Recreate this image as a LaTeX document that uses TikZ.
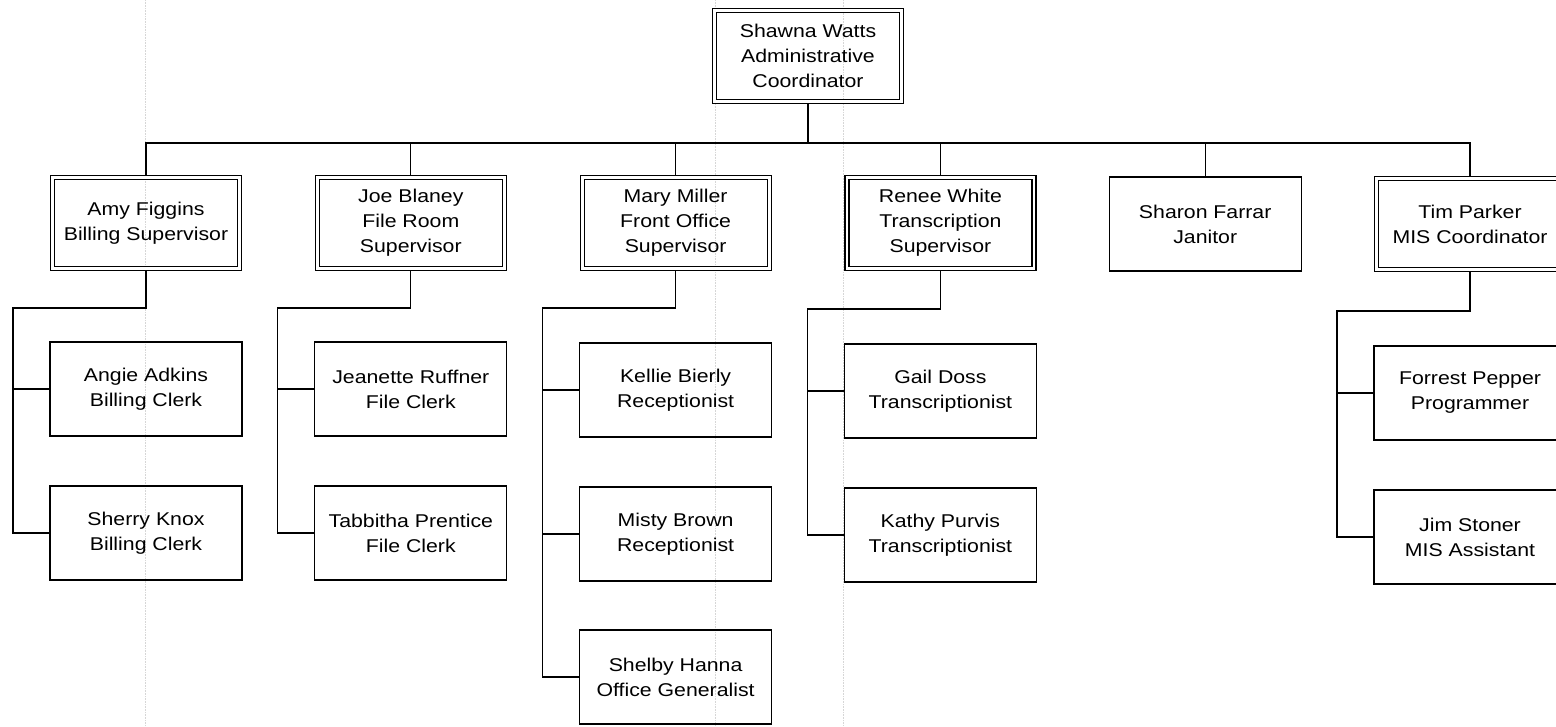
\documentclass[tikz,border=0pt]{standalone}
\usepackage{fontspec}
\setmainfont{Liberation Sans}[FakeStretch=1.15]
\usetikzlibrary{backgrounds}
\usetikzlibrary{calc}

\begin{document}
\begin{tikzpicture}[x=1pt, y=-1pt, font=\fontsize{18.5}{25}\selectfont,
	staff/.style={draw, line width=1.2pt, minimum width=192pt, minimum height=94pt, align=center, inner sep=1pt},
	lead/.style={staff, double, double distance=2.8pt, line width=1.2pt, minimum width=187pt, minimum height=91pt},
	link/.style={line width=1.3pt},
	guide/.style={black!16, densely dotted, line width=0.6pt}]
				\useasboundingbox (0,0) rectangle (1556,726);
				\clip (0,0) rectangle (1556,726);
				\pgfmathsetmacro{\colw}{264.8}
				\pgfmathsetmacro{\busx}{133}
				
				\node[lead] (shawna) at (808,56) {Shawna Watts\\Administrative\\Coordinator};
				
				\node[lead] (amy) at (146,223) {Amy Figgins\\Billing Supervisor};
				\node[lead] (joe) at ({146+\colw},223) {Joe Blaney\\File Room\\Supervisor};
				\node[lead] (mary) at ({146+2*\colw},223) {Mary Miller\\Front Office\\Supervisor};
				\node[lead] (renee) at ({146+3*\colw},223) {Renee White\\Transcription\\Supervisor};
				\node[staff] (sharon) at ({146+4*\colw},224) {Sharon Farrar\\Janitor};
				\node[lead] (tim) at ({146+5*\colw},224) {Tim Parker\\MIS Coordinator};
				
				\node[staff] (angie) at (146,389) {Angie Adkins\\Billing Clerk};
				\node[staff] (sherry) at (146,533) {Sherry Knox\\Billing Clerk};
				
				\node[staff] (jeanette) at ({146+\colw},389) {Jeanette Ruffner\\File Clerk};
				\node[staff] (tabbitha) at ({146+\colw},533) {Tabbitha Prentice\\File Clerk};
				
				\node[staff] (kellie) at ({146+2*\colw},390) {Kellie Bierly\\Receptionist};
				\node[staff] (misty) at ({146+2*\colw},534) {Misty Brown\\Receptionist};
				\node[staff] (shelby) at ({146+2*\colw},677) {Shelby Hanna\\Office Generalist};
				
				\node[staff] (gail) at ({146+3*\colw},391) {Gail Doss\\Transcriptionist};
				\node[staff] (kathy) at ({146+3*\colw},535) {Kathy Purvis\\Transcriptionist};
				
				\node[staff] (forrest) at ({146+5*\colw},393) {Forrest Pepper\\Programmer};
				\node[staff] (jim) at ({146+5*\colw},537) {Jim Stoner\\MIS Assistant};
				
				\begin{scope}[on background layer]
					\draw[guide] (145,0) -- (145,726);
					\draw[guide] (715,0) -- (715,726);
					\draw[guide] (843,0) -- (843,726);
					
					\coordinate (bus) at (808,143);
					\draw[link] (shawna.south) -- (bus);
					\foreach \n in {amy,joe,mary,renee,sharon,tim}
						\draw[link] (\n.north) |- (bus);
					
					\coordinate (amyb) at ($(amy.south)+(-\busx,39)$);
					\draw[link] (amy.south) |- (amyb) |- (sherry.west);
					\draw[link] (amyb) |- (angie.west);
					
					\coordinate (joeb) at ($(joe.south)+(-\busx,39)$);
					\draw[link] (joe.south) |- (joeb) |- (tabbitha.west);
					\draw[link] (joeb) |- (jeanette.west);
					
					\coordinate (maryb) at ($(mary.south)+(-\busx,39)$);
					\draw[link] (mary.south) |- (maryb) |- (shelby.west);
					\draw[link] (maryb) |- (kellie.west);
					\draw[link] (maryb) |- (misty.west);
					
					\coordinate (reneeb) at ($(renee.south)+(-\busx,40)$);
					\draw[link] (renee.south) |- (reneeb) |- (kathy.west);
					\draw[link] (reneeb) |- (gail.west);
					
					\coordinate (timb) at ($(tim.south)+(-\busx,41)$);
					\draw[link] (tim.south) |- (timb) |- (jim.west);
					\draw[link] (timb) |- (forrest.west);
				\end{scope}
\end{tikzpicture}
\end{document}
